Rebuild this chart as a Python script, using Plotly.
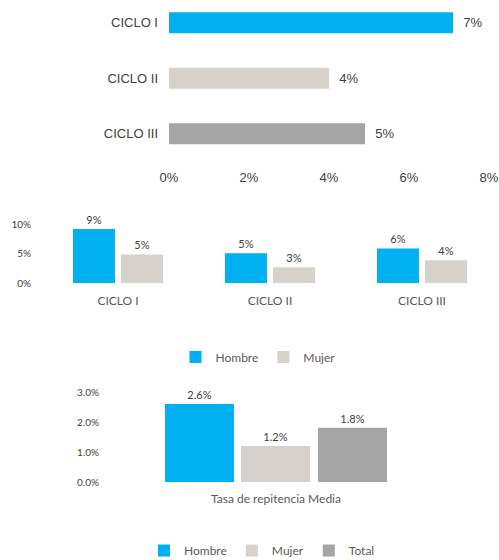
import plotly.graph_objects as go

# ---- data ----
ciclos = ["CICLO I", "CICLO II", "CICLO III"]
ciclo_total = [0.071, 0.040, 0.049]

hombre_ciclo = [0.092, 0.051, 0.059]
mujer_ciclo = [0.049, 0.027, 0.039]

media_cat = ["Tasa de repitencia Media"]
media_hombre = [0.026]
media_mujer = [0.012]
media_total = [0.0181]

BLUE = "#00B0F0"
LIGHT = "#D6D1CB"
GRAY = "#A5A5A5"
TXT = "#595959"
F1 = "Liberation Sans, Arial, sans-serif"
F2 = "Lato, Open Sans, sans-serif"

W, H = 499, 560

def px(x):
    return x / W

def py(y):
    return (H - y) / H

fig = go.Figure()

# Chart 1: horizontal bars
fig.add_trace(go.Bar(
    x=ciclo_total, y=ciclos, orientation="h",
    marker=dict(color=[BLUE, LIGHT, GRAY], line=dict(width=0)),
    width=0.378,
    texttemplate="  %{x:.0%}", textposition="outside", cliponaxis=False,
    textfont=dict(family=F1, size=13, color="#404040"),
    xaxis="x", yaxis="y", showlegend=False, hoverinfo="x+y",
))

# Chart 2: grouped bars by ciclo
fig.add_trace(go.Bar(
    x=ciclos, y=hombre_ciclo, name="Hombre",
    marker=dict(color=BLUE, line=dict(width=0)),
    offset=-0.296, width=0.276,
    texttemplate="%{y:.0%}", textposition="outside", cliponaxis=False,
    textfont=dict(family=F2, size=11, color="#404040"),
    xaxis="x2", yaxis="y2", legend="legend",
))
fig.add_trace(go.Bar(
    x=ciclos, y=mujer_ciclo, name="Mujer",
    marker=dict(color=LIGHT, line=dict(width=0)),
    offset=0.0197, width=0.276,
    texttemplate="%{y:.0%}", textposition="outside", cliponaxis=False,
    textfont=dict(family=F2, size=11, color="#404040"),
    xaxis="x2", yaxis="y2", legend="legend",
))

# Chart 3: media
for vals, name, col, off in [
    (media_hombre, "Hombre", BLUE, -0.3343),
    (media_mujer, "Mujer", LIGHT, -0.1054),
    (media_total, "Total", GRAY, 0.1265),
]:
    fig.add_trace(go.Bar(
        x=media_cat, y=vals, name=name,
        marker=dict(color=col, line=dict(width=0)),
        offset=off, width=0.2078,
        texttemplate="%{y:.1%}", textposition="outside", cliponaxis=False,
        textfont=dict(family=F2, size=11, color="#404040"),
        xaxis="x3", yaxis="y3", legend="legend2",
    ))

noline = dict(showgrid=False, zeroline=False, showline=False, ticks="",
              automargin=False)

fig.update_layout(
    width=W, height=H,
    margin=dict(l=0, r=0, t=0, b=0, autoexpand=False),
    paper_bgcolor="white", plot_bgcolor="white",
    barmode="overlay",
    xaxis=dict(domain=[px(169), px(489)], range=[0, 0.08], dtick=0.02,
               tickformat=".0%", anchor="y",
               tickfont=dict(family=F1, size=13, color="#404040"), **noline),
    yaxis=dict(domain=[py(168), py(6)], type="category",
               categoryorder="array", categoryarray=ciclos,
               range=[2.615, -0.3], anchor="x", ticklabelstandoff=10,
               tickfont=dict(family=F1, size=13, color="#404040"), **noline),
    xaxis2=dict(domain=[px(42), px(498)], type="category", range=[-0.5, 2.5],
                anchor="y2", ticklabelstandoff=9,
                tickfont=dict(family=F2, size=12, color=TXT), **noline),
    yaxis2=dict(domain=[py(283.3), py(224.3)], range=[0, 0.10],
                tickvals=[0, 0.05, 0.10], tickformat=".0%", anchor="x2",
                ticklabelstandoff=10,
                tickfont=dict(family=F2, size=10, color="#404040"), **noline),
    xaxis3=dict(domain=[px(110), px(442)], type="category", range=[-0.5, 0.5],
                anchor="y3", ticklabelstandoff=8,
                tickfont=dict(family=F2, size=12, color=TXT), **noline),
    yaxis3=dict(domain=[py(482), py(392)], range=[0, 0.03], dtick=0.01,
                tickformat=".1%", anchor="x3", ticklabelstandoff=10,
                tickfont=dict(family=F2, size=10, color="#404040"), **noline),
    legend=dict(orientation="h", x=258 / W, xanchor="center",
                y=py(357), yanchor="middle", itemwidth=30,
                font=dict(family=F2, size=12, color=TXT),
                bgcolor="rgba(0,0,0,0)"),
    legend2=dict(orientation="h", x=262 / W, xanchor="center",
                 y=-0.009, yanchor="bottom", itemwidth=30,
                 font=dict(family=F2, size=12, color=TXT),
                 bgcolor="rgba(0,0,0,0)"),
)

fig.write_html(
    "out.html",
    config={"displayModeBar": False},
    post_script="document.body.style.margin='0';document.body.style.overflow='hidden';",
)
